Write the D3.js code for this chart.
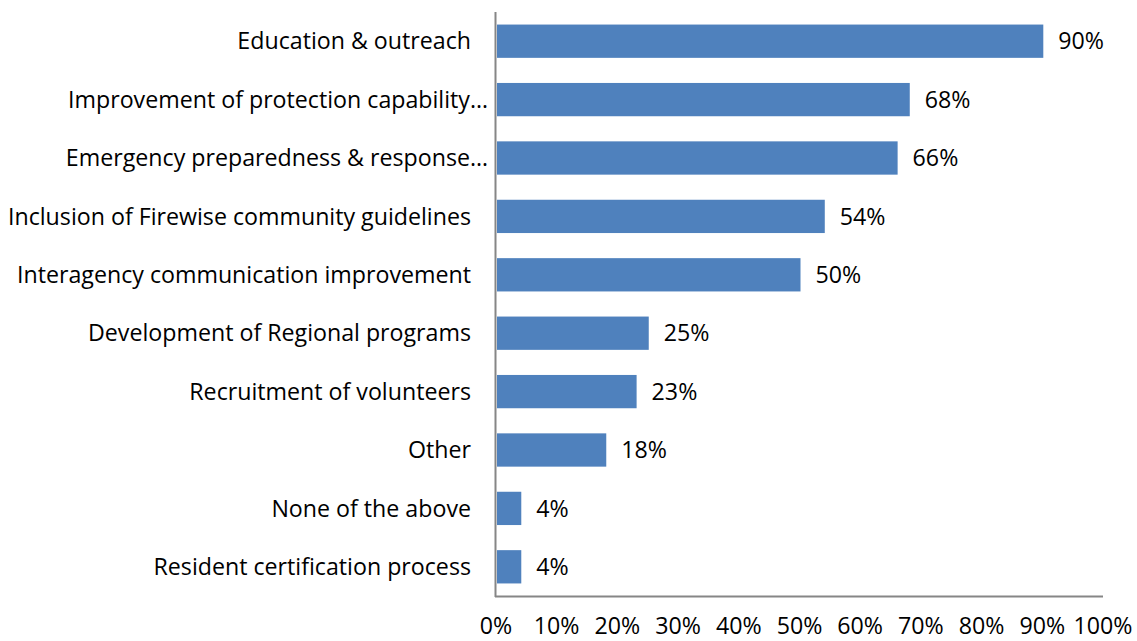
<!DOCTYPE html>
<html><head><meta charset="utf-8">
<script src="https://cdn.jsdelivr.net/npm/d3@7"></script>
<style>body{margin:0;background:#fff}svg{display:block}</style>
</head><body>
<script>
const categories = ["Education & outreach","Improvement of protection capability…","Emergency preparedness & response…","Inclusion of Firewise community guidelines","Interagency communication improvement","Development of Regional programs","Recruitment of volunteers","Other","None of the above","Resident certification process"];
const values = [90,68,66,54,50,25,23,18,4,4];
const tickValues = [0,10,20,30,40,50,60,70,80,90,100];

const W=1137,H=641;
const svg=d3.select("body").append("svg").attr("width",W).attr("height",H);
const font="'Open Sans', sans-serif";
const fs=23.2;
const x=d3.scaleLinear().domain([0,100]).range([496,1103]);
const y=d3.scaleBand().domain(categories).range([12,596]).paddingInner(0.43).paddingOuter(0.215);

svg.selectAll("rect.bar").data(values).join("rect").attr("class","bar")
  .attr("x",x(0)+1).attr("y",(d,i)=>y(categories[i]))
  .attr("width",d=>x(d)-x(0)).attr("height",y.bandwidth()).attr("fill","#4F81BD");

svg.selectAll("text.val").data(values).join("text").attr("class","val")
  .attr("x",d=>x(d)+16).attr("y",(d,i)=>y(categories[i])+y.bandwidth()/2)
  .attr("dy","0.35em").attr("font-family",font).attr("font-size",fs).attr("fill","#000")
  .text(d=>d+"%");

svg.selectAll("text.cat").data(categories).join("text").attr("class","cat")
  .attr("x",d=>d.endsWith("…")?488:471).attr("y",d=>y(d)+y.bandwidth()/2)
  .attr("dy","0.35em").attr("text-anchor","end").attr("font-family",font).attr("font-size",fs).attr("fill","#000")
  .text(d=>d);

// axes lines
svg.append("line").attr("x1",x(0)-0.5).attr("x2",x(0)-0.5).attr("y1",12).attr("y2",597).attr("stroke","#868686").attr("stroke-width",2);
svg.append("line").attr("x1",x(0)-1).attr("x2",x(100)).attr("y1",596.5).attr("y2",596.5).attr("stroke","#868686").attr("stroke-width",2);

svg.selectAll("text.tick").data(tickValues).join("text").attr("class","tick")
  .attr("x",d=>x(d)).attr("y",634).attr("text-anchor","middle")
  .attr("font-family",font).attr("font-size",fs).attr("fill","#000").text(d=>d+"%");
</script>
</body></html>
